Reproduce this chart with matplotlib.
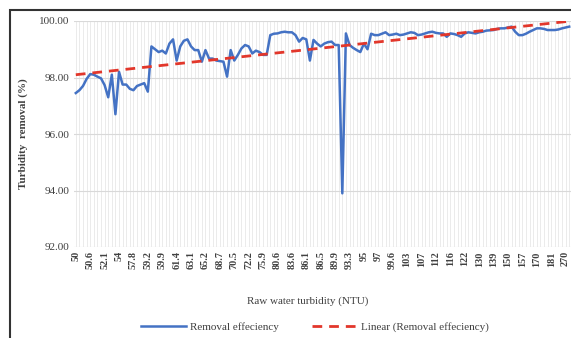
import numpy as np
import matplotlib
matplotlib.use("Agg")
import matplotlib.pyplot as plt
from matplotlib.patches import Rectangle

# raw water turbidity categories (only every 4th one is labelled on the axis)
tick_labels = ["50", "50.6", "52.1", "54", "57.8", "59.2", "59.9", "61.4", "63.1",
               "65.2", "68.7", "70.5", "72.2", "75.9", "80.6", "83.6", "86.1",
               "86.5", "89.9", "93.3", "95", "97", "99.6", "103", "107", "112",
               "116", "122", "130", "139", "150", "157", "170", "181", "270"]

# removal efficiency (%), one value per sample
removal = [
    97.45, 97.55, 97.70, 97.95, 98.12, 98.10, 98.03, 97.97, 97.73, 97.30,
    98.10, 96.70, 98.20, 97.75, 97.75, 97.60, 97.55, 97.70, 97.75, 97.80,
    97.50, 99.10, 99.00, 98.90, 98.95, 98.85, 99.20, 99.35, 98.60, 99.10,
    99.30, 99.35, 99.10, 98.97, 98.97, 98.56, 98.97, 98.67, 98.67, 98.60,
    98.58, 98.56, 98.03, 98.97, 98.60, 98.80, 99.03, 99.15, 99.10, 98.85,
    98.95, 98.90, 98.80, 98.80, 99.50, 99.55, 99.56, 99.60, 99.62, 99.60,
    99.60, 99.50, 99.27, 99.40, 99.35, 98.60, 99.33, 99.20, 99.10, 99.20,
    99.25, 99.27, 99.15, 99.15, 93.90, 99.56, 99.15, 99.05, 98.97, 98.90,
    99.20, 99.00, 99.55, 99.50, 99.50, 99.55, 99.60, 99.50, 99.52, 99.55,
    99.50, 99.52, 99.56, 99.60, 99.58, 99.50, 99.52, 99.56, 99.60, 99.62,
    99.58, 99.56, 99.56, 99.44, 99.56, 99.54, 99.50, 99.44, 99.56, 99.60,
    99.58, 99.56, 99.60, 99.62, 99.66, 99.67, 99.68, 99.72, 99.74, 99.74,
    99.77, 99.80, 99.62, 99.50, 99.50, 99.55, 99.62, 99.68, 99.74, 99.74,
    99.72, 99.68, 99.68, 99.68, 99.70, 99.74, 99.77, 99.80,
]

serif = ["Liberation Serif", "DejaVu Serif"]
plt.rcParams["font.family"] = serif

x = np.arange(len(removal))
y = np.array(removal)
coef = np.polyfit(x, y, 1)  # linear trendline like Excel
trend = np.polyval(coef, x)

fig = plt.figure(figsize=(5.71, 3.38), dpi=100)
ax = fig.add_axes([74 / 571, 91 / 338, 497 / 571, 226 / 338])

ax.plot(x, y, color="#4472C4", lw=1.8, solid_joinstyle="round",
        label="Removal effeciency", zorder=3)
ax.plot(x, trend, color="#E2372B", lw=2.0, dashes=(3.5, 2.5),
        label="Linear (Removal effeciency)", zorder=4)

ax.set_xlim(-0.5, len(removal) - 0.5)
ax.set_ylim(92, 100)
ax.set_yticks(np.arange(92, 100.1, 2))
ax.set_yticklabels([f"{v:.2f}" for v in np.arange(92, 100.1, 2)],
                   fontsize=8, color="#404040")

ax.set_xticks(x, minor=True)
ax.set_xticks(x[::4])
ax.set_xticklabels(tick_labels, rotation=90, fontsize=7.3, fontweight="bold",
                   color="#404040")
ax.tick_params(axis="both", which="both", length=0, pad=3)

ax.grid(axis="y", color="#d9d9d9", lw=0.8)
ax.grid(axis="x", which="both", color="#e8e8e8", lw=0.6)
ax.set_axisbelow(True)
for s in ax.spines.values():
    s.set_visible(False)

ax.set_ylabel("Turbidity  removal (%)", fontsize=8, fontweight="bold",
              color="#404040", labelpad=8)
ax.set_xlabel("Raw water turbidity (NTU)", fontsize=8, color="#404040")
ax.xaxis.set_label_coords((308 - 74) / 497, -(296 - 247) / 226)

leg = fig.legend(loc="center", bbox_to_anchor=(315 / 571, 1 - 327 / 338),
                 ncol=2, frameon=False, fontsize=8, handlelength=4,
                 columnspacing=3, handletextpad=0.4)
for t in leg.get_texts():
    t.set_color("#404040")

# outer border of the chart (cut off at right and bottom)
fig.patches.append(Rectangle((10 / 571, -0.1), 1.2, 1 - 10 / 338 + 0.1,
                             transform=fig.transFigure, fill=False,
                             edgecolor="#333333", lw=1.5))

fig.savefig("out.png", dpi=100)
